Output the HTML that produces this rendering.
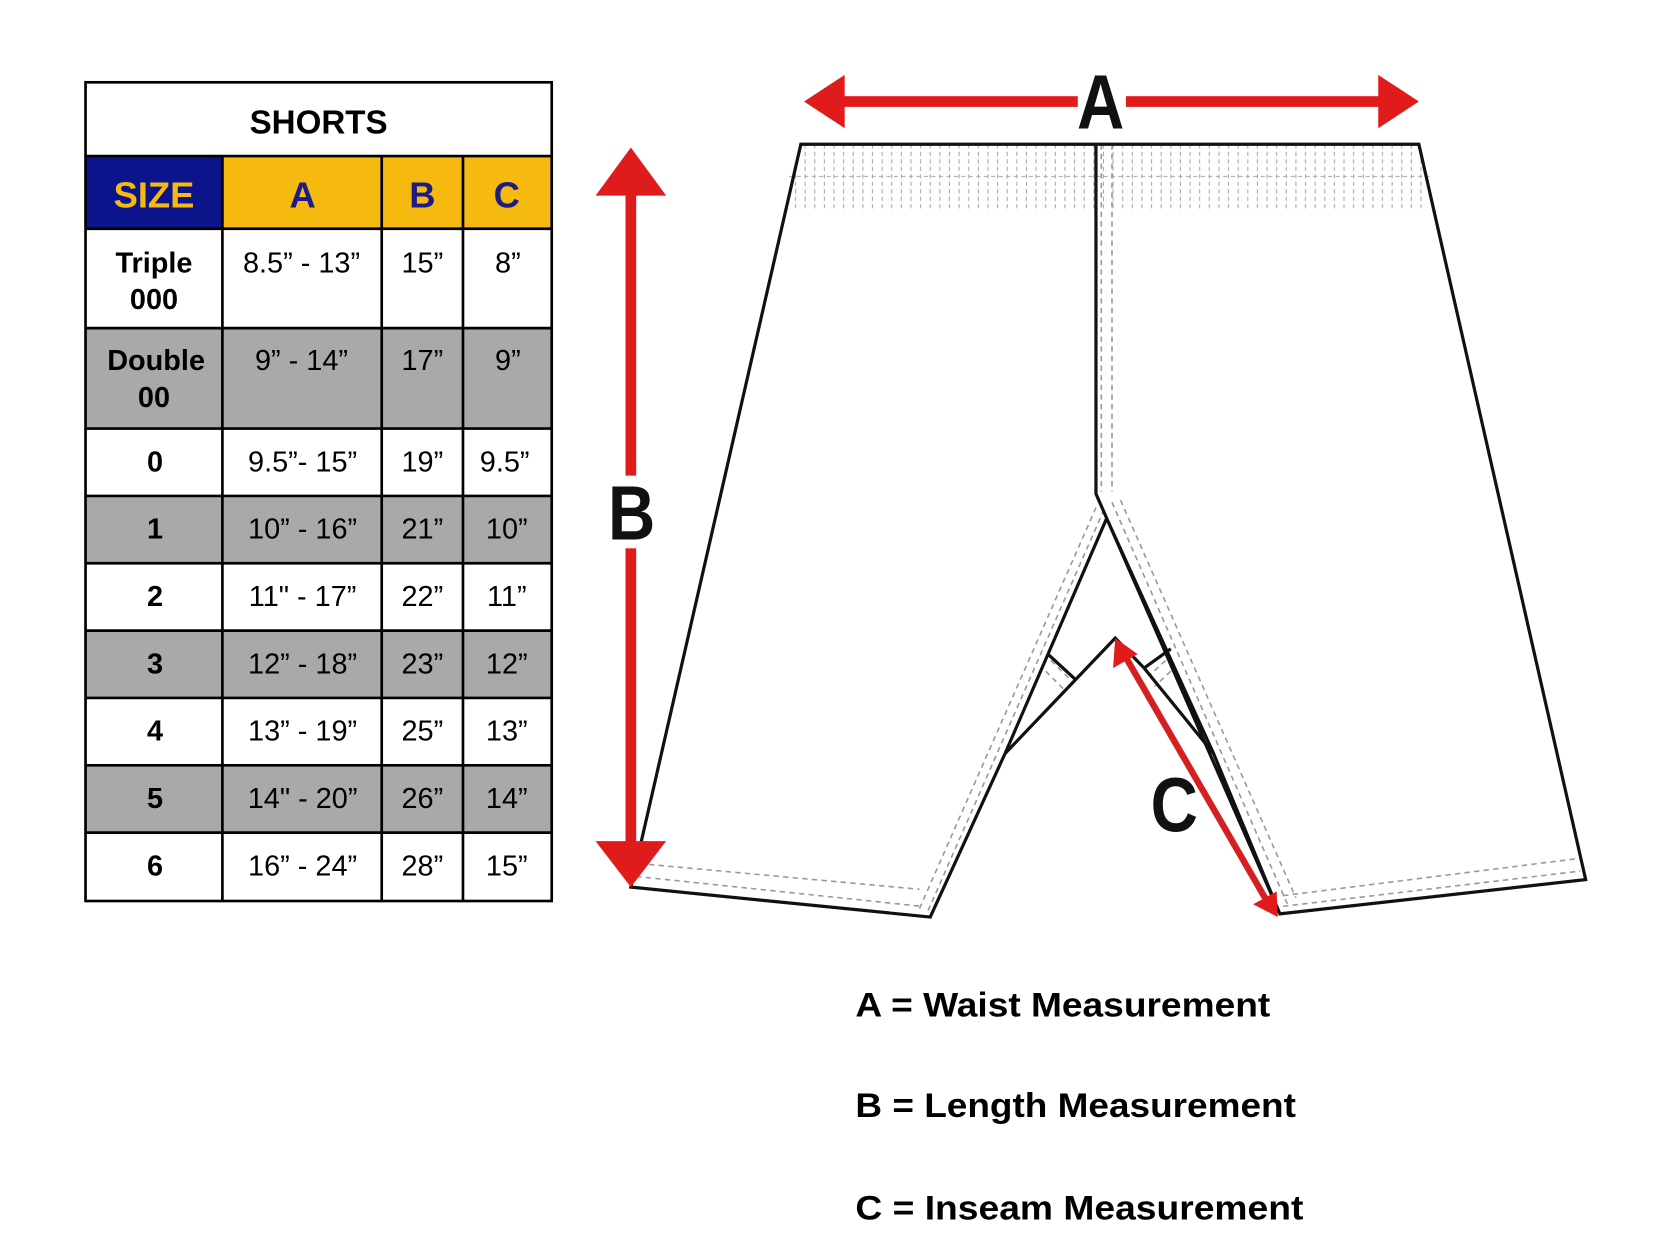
<!DOCTYPE html>
<html><head><meta charset="utf-8"><style>
html,body{margin:0;padding:0;background:#fff}
svg{display:block}
text{font-family:"Liberation Sans",Arial,sans-serif}
</style></head><body>
<svg width="1668" height="1258" viewBox="0 0 1560 1177" preserveAspectRatio="none" xmlns="http://www.w3.org/2000/svg">
<defs>
<pattern id="wb" width="9" height="60" patternUnits="userSpaceOnUse" x="749" y="135">
<line x1="4" y1="0" x2="4" y2="60" stroke="#aaa" stroke-width="1" stroke-dasharray="4,3"/>
</pattern>
</defs>
<rect width="1560" height="1177" fill="#fff"/>
<rect x="80" y="146" width="128" height="68" fill="#0b148a"/>
<rect x="208" y="146" width="308" height="68" fill="#f5b90f"/>
<rect x="80" y="307" width="436" height="94" fill="#a9a9a9"/>
<rect x="80" y="464" width="436" height="63" fill="#a9a9a9"/>
<rect x="80" y="590" width="436" height="63" fill="#a9a9a9"/>
<rect x="80" y="716" width="436" height="63" fill="#a9a9a9"/>
<g stroke="#000" stroke-width="2.5" fill="none">
<rect x="80" y="77" width="436" height="766"/>
<line x1="80" y1="146" x2="516" y2="146"/>
<line x1="80" y1="214" x2="516" y2="214"/>
<line x1="80" y1="307" x2="516" y2="307"/>
<line x1="80" y1="401" x2="516" y2="401"/>
<line x1="80" y1="464" x2="516" y2="464"/>
<line x1="80" y1="527" x2="516" y2="527"/>
<line x1="80" y1="590" x2="516" y2="590"/>
<line x1="80" y1="653" x2="516" y2="653"/>
<line x1="80" y1="716" x2="516" y2="716"/>
<line x1="80" y1="779" x2="516" y2="779"/>
<line x1="208" y1="146" x2="208" y2="843"/>
<line x1="357" y1="146" x2="357" y2="843"/>
<line x1="433" y1="146" x2="433" y2="843"/>
</g>
<g font-size="31" font-weight="bold" text-anchor="middle">
<text x="298" y="125" fill="#000">SHORTS</text>
<text x="144" y="194" fill="#f5b90f" font-size="34">SIZE</text>
<text x="283" y="194" fill="#1b1b8a" font-size="34">A</text>
<text x="395" y="194" fill="#1b1b8a" font-size="34">B</text>
<text x="474" y="194" fill="#1b1b8a" font-size="34">C</text>
</g>
<g font-size="27" text-anchor="middle" fill="#000">
<g font-weight="bold">
<text x="144" y="255">Triple</text><text x="144" y="289">000</text>
<text x="146" y="346">Double</text><text x="144" y="381">00</text>
<text x="145" y="441">0</text>
<text x="145" y="504">1</text>
<text x="145" y="567">2</text>
<text x="145" y="630">3</text>
<text x="145" y="693">4</text>
<text x="145" y="756">5</text>
<text x="145" y="819">6</text>
</g>
<text x="282" y="255">8.5” - 13”</text><text x="395" y="255">15”</text><text x="475" y="255">8”</text>
<text x="282" y="346">9” - 14”</text><text x="395" y="346">17”</text><text x="475" y="346">9”</text>
<text x="283" y="441">9.5”- 15”</text><text x="395" y="441">19”</text><text x="472" y="441">9.5”</text>
<text x="283" y="504">10” - 16”</text><text x="395" y="504">21”</text><text x="474" y="504">10”</text>
<text x="283" y="567">11" - 17”</text><text x="395" y="567">22”</text><text x="474" y="567">11”</text>
<text x="283" y="630">12” - 18”</text><text x="395" y="630">23”</text><text x="474" y="630">12”</text>
<text x="283" y="693">13” - 19”</text><text x="395" y="693">25”</text><text x="474" y="693">13”</text>
<text x="283" y="756">14" - 20”</text><text x="395" y="756">26”</text><text x="474" y="756">14”</text>
<text x="283" y="819">16” - 24”</text><text x="395" y="819">28”</text><text x="474" y="819">15”</text>
</g>
<polygon points="749,135 1327,135 1337,195 738,195" fill="url(#wb)"/>
<line x1="738" y1="165" x2="1337" y2="165" stroke="#aaa" stroke-width="1" stroke-dasharray="4,3"/>
<g stroke="#999" stroke-width="1.5" stroke-dasharray="5,4" fill="none">
<line x1="1030" y1="135" x2="1030" y2="460"/><line x1="1040" y1="135" x2="1040" y2="460"/>
<line x1="598" y1="808" x2="860" y2="832"/><line x1="595" y1="820" x2="862" y2="848"/>
<line x1="1200" y1="838" x2="1478" y2="803"/><line x1="1200" y1="848" x2="1478" y2="815"/>
<line x1="860" y1="850" x2="1025" y2="475"/><line x1="868" y1="852" x2="1032" y2="478"/>
<line x1="1040" y1="470" x2="1205" y2="848"/><line x1="1048" y1="468" x2="1212" y2="840"/>
<line x1="983" y1="618" x2="1000" y2="635"/><line x1="978" y1="628" x2="995" y2="645"/>
<line x1="1090" y1="618" x2="1075" y2="632"/><line x1="1095" y1="628" x2="1080" y2="642"/>
</g>
<g stroke="#111" stroke-width="3" fill="none" stroke-linejoin="miter">
<polyline points="1025,135 749,135 590,830 870,858 940,705 1035,485 1135,705 1197,855 1483,823 1327,135 1025,135 1025,462 1197,855"/>
<polyline points="940,705 1043,597 1070,625"/>
<line x1="1070" y1="625" x2="1135" y2="705"/>
<line x1="980" y1="612" x2="1005" y2="635"/>
<line x1="1070" y1="625" x2="1095" y2="607"/>
</g>
<g fill="#e01b1b" stroke="none">
<rect x="780" y="90" width="515" height="10"/>
<polygon points="752,95 790,70 790,120"/>
<polygon points="1327,95 1289,70 1289,120"/>
<rect x="585" y="170" width="10" height="630"/>
<polygon points="590,138 557,183 623,183"/>
<polygon points="590,830 557,787 623,787"/>
<line x1="1050" y1="610" x2="1186" y2="845" stroke="#d42020" stroke-width="6"/>
<polygon points="1043,597 1041,625 1064,612"/>
<polygon points="1195,858 1172,846 1194,834"/>
</g>
<rect x="1008" y="60" width="45" height="62" fill="#fff"/>
<rect x="570" y="445" width="42" height="68" fill="#fff"/>
<g font-weight="bold" fill="#111" text-anchor="middle">
<text x="1030" y="120" font-size="72" transform="scale(0.85,1) translate(181,0)">A</text>
<text x="591" y="505" font-size="72" transform="scale(0.85,1) translate(104,0)">B</text>
<text x="1098" y="778" font-size="72" transform="scale(0.85,1) translate(194,0)">C</text>
</g>
<g font-size="32" font-weight="bold" fill="#000">
<text x="800" y="951" textLength="388" lengthAdjust="spacingAndGlyphs">A = Waist Measurement</text>
<text x="800" y="1045" textLength="412" lengthAdjust="spacingAndGlyphs">B = Length Measurement</text>
<text x="800" y="1141" textLength="419" lengthAdjust="spacingAndGlyphs">C = Inseam Measurement</text>
</g>
</svg>
</body></html>
